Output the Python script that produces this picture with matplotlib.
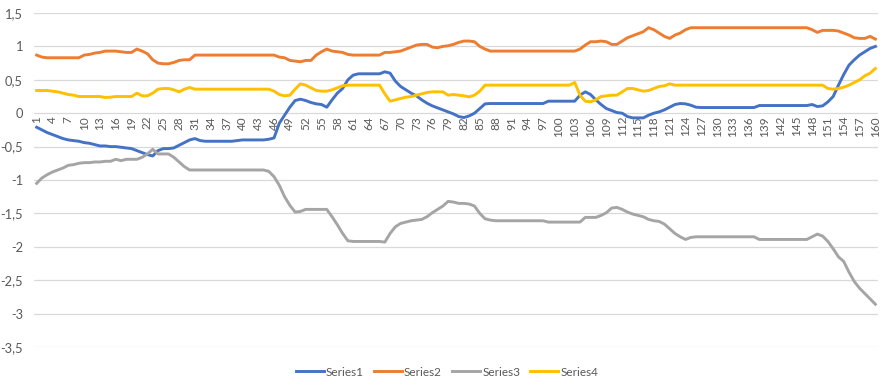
import matplotlib
matplotlib.use("Agg")
import matplotlib.pyplot as plt
import numpy as np

# categories 1..160
cats = list(range(1, 161))

series1 = [-0.21, -0.25, -0.29, -0.32, -0.35, -0.38, -0.40, -0.41, -0.42, -0.44,
           -0.45, -0.47, -0.49, -0.49, -0.50, -0.50, -0.51, -0.52, -0.53, -0.56,
           -0.59, -0.62, -0.64, -0.56, -0.53, -0.53, -0.52, -0.48, -0.44, -0.40,
           -0.38, -0.41, -0.42, -0.42, -0.42, -0.42, -0.42, -0.42, -0.41, -0.40,
           -0.40, -0.40, -0.40, -0.40, -0.39, -0.37, -0.15, -0.03, 0.09, 0.19,
           0.21, 0.19, 0.16, 0.14, 0.13, 0.09, 0.20, 0.30, 0.37, 0.50,
           0.57, 0.59, 0.59, 0.59, 0.59, 0.59, 0.62, 0.60, 0.48, 0.40,
           0.35, 0.30, 0.26, 0.20, 0.15, 0.11, 0.08, 0.05, 0.02, -0.01,
           -0.05, -0.065, -0.04, 0.00, 0.07, 0.14, 0.145, 0.145, 0.145, 0.145,
           0.145, 0.145, 0.145, 0.145, 0.145, 0.145, 0.145, 0.18, 0.18, 0.18,
           0.18, 0.18, 0.18, 0.27, 0.32, 0.28, 0.20, 0.13, 0.07, 0.04,
           0.01, 0.00, -0.05, -0.07, -0.07, -0.07, -0.03, 0.00, 0.02, 0.05,
           0.09, 0.13, 0.145, 0.14, 0.12, 0.09, 0.085, 0.085, 0.085, 0.085,
           0.085, 0.085, 0.085, 0.085, 0.085, 0.085, 0.085, 0.115, 0.115, 0.115,
           0.115, 0.115, 0.115, 0.115, 0.115, 0.115, 0.115, 0.13, 0.10, 0.11,
           0.17, 0.25, 0.42, 0.58, 0.72, 0.80, 0.87, 0.92, 0.97, 1.00]

series2 = [0.87, 0.84, 0.83, 0.83, 0.83, 0.83, 0.83, 0.83, 0.83, 0.87,
           0.88, 0.90, 0.91, 0.93, 0.93, 0.93, 0.92, 0.91, 0.91, 0.96,
           0.93, 0.89, 0.80, 0.75, 0.74, 0.74, 0.76, 0.79, 0.80, 0.80,
           0.87, 0.87, 0.87, 0.87, 0.87, 0.87, 0.87, 0.87, 0.87, 0.87,
           0.87, 0.87, 0.87, 0.87, 0.87, 0.87, 0.84, 0.83, 0.79, 0.78,
           0.77, 0.79, 0.79, 0.87, 0.92, 0.96, 0.93, 0.92, 0.91, 0.88,
           0.87, 0.87, 0.87, 0.87, 0.87, 0.87, 0.91, 0.91, 0.92, 0.93,
           0.96, 0.99, 1.02, 1.03, 1.03, 0.99, 0.98, 1.00, 1.01, 1.03,
           1.06, 1.08, 1.08, 1.07, 1.00, 0.96, 0.93, 0.93, 0.93, 0.93,
           0.93, 0.93, 0.93, 0.93, 0.93, 0.93, 0.93, 0.93, 0.93, 0.93,
           0.93, 0.93, 0.93, 0.96, 1.02, 1.07, 1.07, 1.08, 1.07, 1.03,
           1.03, 1.08, 1.13, 1.16, 1.19, 1.22, 1.28, 1.25, 1.20, 1.15,
           1.12, 1.17, 1.20, 1.25, 1.28, 1.28, 1.28, 1.28, 1.28, 1.28,
           1.28, 1.28, 1.28, 1.28, 1.28, 1.28, 1.28, 1.28, 1.28, 1.28,
           1.28, 1.28, 1.28, 1.28, 1.28, 1.28, 1.28, 1.25, 1.21, 1.24,
           1.24, 1.24, 1.23, 1.20, 1.17, 1.13, 1.12, 1.12, 1.15, 1.11]

series3 = [-1.05, -0.97, -0.92, -0.88, -0.85, -0.82, -0.78, -0.77, -0.75, -0.74,
           -0.74, -0.73, -0.73, -0.72, -0.72, -0.69, -0.71, -0.69, -0.69, -0.69,
           -0.66, -0.61, -0.54, -0.61, -0.61, -0.61, -0.66, -0.73, -0.80, -0.85,
           -0.85, -0.85, -0.85, -0.85, -0.85, -0.85, -0.85, -0.85, -0.85, -0.85,
           -0.85, -0.85, -0.85, -0.85, -0.87, -0.95, -1.08, -1.25, -1.38, -1.48,
           -1.47, -1.44, -1.44, -1.44, -1.44, -1.44, -1.55, -1.67, -1.80, -1.91,
           -1.92, -1.92, -1.92, -1.92, -1.92, -1.92, -1.93, -1.80, -1.70, -1.65,
           -1.63, -1.61, -1.60, -1.59, -1.55, -1.49, -1.44, -1.39, -1.32, -1.33,
           -1.35, -1.35, -1.36, -1.39, -1.50, -1.58, -1.60, -1.61, -1.61, -1.61,
           -1.61, -1.61, -1.61, -1.61, -1.61, -1.61, -1.61, -1.63, -1.63, -1.63,
           -1.63, -1.63, -1.63, -1.63, -1.56, -1.56, -1.56, -1.53, -1.49, -1.42,
           -1.41, -1.44, -1.48, -1.51, -1.53, -1.55, -1.59, -1.61, -1.62, -1.66,
           -1.73, -1.80, -1.85, -1.89, -1.86, -1.85, -1.85, -1.85, -1.85, -1.85,
           -1.85, -1.85, -1.85, -1.85, -1.85, -1.85, -1.85, -1.89, -1.89, -1.89,
           -1.89, -1.89, -1.89, -1.89, -1.89, -1.89, -1.89, -1.85, -1.81, -1.84,
           -1.92, -2.03, -2.15, -2.22, -2.38, -2.52, -2.62, -2.70, -2.78, -2.86]

series4 = [0.34, 0.34, 0.34, 0.33, 0.32, 0.30, 0.28, 0.27, 0.25, 0.25,
           0.25, 0.25, 0.25, 0.235, 0.24, 0.25, 0.25, 0.25, 0.25, 0.30,
           0.26, 0.26, 0.30, 0.36, 0.37, 0.37, 0.35, 0.32, 0.36, 0.385,
           0.36, 0.36, 0.36, 0.36, 0.36, 0.36, 0.36, 0.36, 0.36, 0.36,
           0.36, 0.36, 0.36, 0.36, 0.36, 0.33, 0.28, 0.26, 0.27, 0.36,
           0.44, 0.42, 0.38, 0.34, 0.33, 0.33, 0.35, 0.38, 0.41, 0.42,
           0.42, 0.42, 0.42, 0.42, 0.42, 0.42, 0.29, 0.18, 0.20, 0.22,
           0.24, 0.25, 0.27, 0.29, 0.31, 0.32, 0.32, 0.32, 0.27, 0.28,
           0.27, 0.26, 0.245, 0.27, 0.33, 0.42, 0.42, 0.42, 0.42, 0.42,
           0.42, 0.42, 0.42, 0.42, 0.42, 0.42, 0.42, 0.42, 0.42, 0.42,
           0.42, 0.42, 0.46, 0.27, 0.18, 0.17, 0.20, 0.25, 0.26, 0.27,
           0.27, 0.32, 0.37, 0.37, 0.35, 0.33, 0.34, 0.37, 0.40, 0.41,
           0.44, 0.42, 0.42, 0.42, 0.42, 0.42, 0.42, 0.42, 0.42, 0.42,
           0.42, 0.42, 0.42, 0.42, 0.42, 0.42, 0.42, 0.42, 0.42, 0.42,
           0.42, 0.42, 0.42, 0.42, 0.42, 0.42, 0.42, 0.42, 0.42, 0.42,
           0.37, 0.36, 0.37, 0.39, 0.42, 0.46, 0.50, 0.56, 0.60, 0.67]

names = ["Series1", "Series2", "Series3", "Series4"]
colors = ["#4472C4", "#ED7D31", "#A5A5A5", "#FFC000"]

yticks = [1.5, 1, 0.5, 0, -0.5, -1, -1.5, -2, -2.5, -3, -3.5]
ytick_labels = [("%g" % v).replace(".", ",") for v in yticks]
xticks = cats[::3]

plt.rcParams['font.family'] = ['Lato', 'DejaVu Sans']
txt = "#595959"

fig = plt.figure(figsize=(8.86, 3.92), dpi=100)
ax = fig.add_axes([0.0384, 0.1148, 0.9526, 0.852])

# グリッド
for v in yticks:
    ax.axhline(v, color="#D9D9D9", lw=0.9, zorder=0)

for s, name, c in zip([series1, series2, series3, series4], names, colors):
    ax.plot(cats, s, color=c, lw=2.1, label=name, solid_joinstyle="round")

ax.set_xlim(0.5, 160.5)
ax.set_ylim(-3.5, 1.5)
for sp in ax.spines.values():
    sp.set_visible(False)
ax.spines['bottom'].set_position(('data', 0))

ax.set_yticks(yticks)
ax.set_yticklabels(ytick_labels)
ax.set_xticks(xticks)
ax.set_xticklabels([str(x) for x in xticks])
ax.tick_params(axis='y', length=0, pad=8, labelsize=9.3, labelcolor=txt)
ax.tick_params(axis='x', length=0, pad=2, labelsize=8.5, labelcolor=txt,
               labelrotation=90)

ax.legend(loc='center', bbox_to_anchor=(447 / 886, 1 - 372 / 392),
          bbox_transform=fig.transFigure, ncol=4, frameon=False,
          fontsize=8.5, labelcolor=txt, handlelength=2.4, handletextpad=0.15,
          columnspacing=0.85)

fig.savefig("out.png", dpi=100)
